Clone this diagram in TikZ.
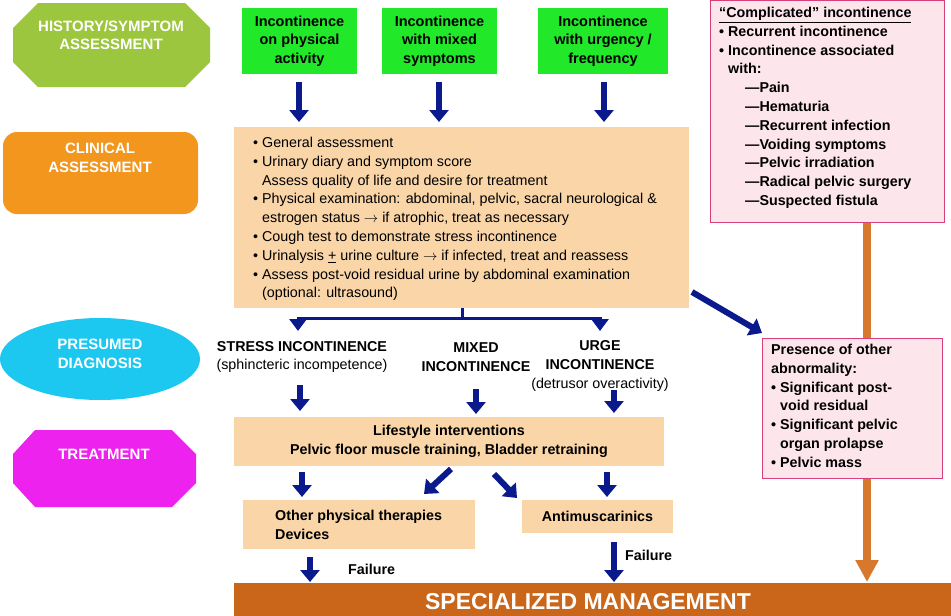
\documentclass[tikz,border=0pt]{standalone}
\usepackage{fontspec}
\setmainfont{Liberation Sans}
\usetikzlibrary{arrows.meta,shapes.geometric,shapes.misc}
\definecolor{navy}{HTML}{0A1A8C}
\definecolor{peach}{HTML}{F9D5A8}
\definecolor{gbox}{HTML}{22E82A}
\definecolor{lgreen}{HTML}{9CC63E}
\definecolor{orng}{HTML}{F2961E}
\definecolor{cyn}{HTML}{1CC8F0}
\definecolor{mag}{HTML}{EE22EE}
\definecolor{brwn}{HTML}{C9661A}
\definecolor{pinkf}{HTML}{FCE6EC}
\definecolor{pinkd}{HTML}{D8407A}
\definecolor{oarr}{HTML}{D8782C}
\tikzset{
  x=1pt,y=-1pt,
  bigarrow/.style={draw=navy,line width=6pt,-{Triangle[width=19pt,length=12pt]}},
  peachbox/.style={fill=peach,draw=none,inner sep=0},
  greenbox/.style={fill=gbox,draw=none,font=\fontsize{14.5}{18.5}\selectfont\bfseries,align=center,inner sep=0},
  sidelab/.style={text=white,font=\fontsize{15}{18.5}\selectfont\bfseries,align=center},
  body/.style={font=\fontsize{14.3}{18.8}\selectfont,align=left,inner sep=0},
  bbody/.style={font=\fontsize{14.3}{18.8}\selectfont\bfseries,align=left,inner sep=0},
  pinkbox/.style={fill=pinkf,draw=pinkd,line width=1pt,inner sep=0},
}
\begin{document}
\begin{tikzpicture}
\useasboundingbox (0,0) rectangle (951,616);
% left labels
\fill[lgreen] (38,3) -- (185,3) -- (210,28) -- (210,62) -- (185,87) -- (38,87) -- (13,62) -- (13,28) -- cycle;
\node[sidelab] (hist) at (111,35) {HISTORY/SYMPTOM\\ASSESSMENT};
\node[fill=orng,rounded corners=14pt,minimum width=195,minimum height=82,inner sep=0] (clinl) at (100.5,173) {};
\node[sidelab] at (100,158) {CLINICAL\\ASSESSMENT};
\node[ellipse,fill=cyn,minimum width=200,minimum height=82,inner sep=0] (pres) at (100,359) {};
\node[sidelab] at (100,354) {PRESUMED\\DIAGNOSIS};
\fill[mag] (35,430) -- (172,430) -- (196,454) -- (196,483) -- (172,507) -- (35,507) -- (13,483) -- (13,454) -- cycle;
\node[sidelab] (treat) at (104,454) {TREATMENT};
% green boxes
\node[greenbox,minimum width=115,minimum height=66] (g1) at (299.5,41) {Incontinence\\on physical\\activity};
\node[greenbox,minimum width=115,minimum height=66] (g2) at (439.5,41) {Incontinence\\with mixed\\symptoms};
\node[greenbox,minimum width=130,minimum height=66] (g3) at (603,41) {Incontinence\\with urgency /\\frequency};
% clinical box
\node[peachbox,minimum width=455,minimum height=181] (clin) at (461.5,217.5) {};
\node[body,anchor=north west] (clint) at (253,137) {%
\textbullet\ General assessment\\
\textbullet\ Urinary diary and symptom score\\
\phantom{\textbullet\ }Assess quality of life and desire for treatment\\
\textbullet\ Physical examination: abdominal, pelvic, sacral neurological \&\\
\phantom{\textbullet\ }estrogen status $\rightarrow$ if atrophic, treat as necessary\\
\textbullet\ Cough test to demonstrate stress incontinence\\
\textbullet\ Urinalysis \underline{+} urine culture $\rightarrow$ if infected, treat and reassess\\
\textbullet\ Assess post-void residual urine by abdominal examination\\
\phantom{\textbullet\ }(optional: ultrasound)};
\coordinate (a1) at (299,122); \coordinate (a2) at (439,122); \coordinate (a3) at (604,122);
\coordinate (b1) at (299,82); \coordinate (b2) at (439,82); \coordinate (b3) at (604,82);
\draw[bigarrow] (b1) -- (a1);
\draw[bigarrow] (b2) -- (a2);
\draw[bigarrow] (b3) -- (a3);
% split
\coordinate (sp) at (462,318);
\coordinate (st) at (462,308);
\coordinate (sl) at (298,331); \coordinate (sr) at (600,331);
\draw[navy,line width=3pt] (st) -- (sp);
\draw[navy,line width=3pt,-{Triangle[width=17pt,length=12pt]}] (sp) -| (sl);
\draw[navy,line width=3pt,-{Triangle[width=17pt,length=12pt]}] (sp) -| (sr);
% diagnoses
\node[font=\fontsize{14.3}{18.8}\selectfont,align=center,inner sep=0] (d1) at (302,357) {\textbf{STRESS INCONTINENCE}\\(sphincteric incompetence)};
\node[font=\fontsize{14.3}{18.8}\selectfont\bfseries,align=center,inner sep=0] (d2) at (476,357) {MIXED\\INCONTINENCE};
\node[font=\fontsize{14.3}{18.8}\selectfont,align=center,inner sep=0] (d3) at (600,366) {\textbf{URGE}\\\textbf{INCONTINENCE}\\(detrusor overactivity)};
% lifestyle
\node[peachbox,minimum width=430,minimum height=49,font=\fontsize{14.3}{18.8}\selectfont\bfseries,align=center] (life) at (449,441.5) {Lifestyle interventions\\Pelvic floor muscle training, Bladder retraining};
\draw[bigarrow] (300,385) -- (300,411);
\draw[bigarrow] (476,389) -- (476,414);
\draw[bigarrow] (614,390) -- (614,413);
% lower boxes
\node[peachbox,minimum width=232,minimum height=49] (oth) at (359,524.5) {};
\node[bbody,anchor=west] at (275,524.5) {Other physical therapies\\Devices};
\node[peachbox,minimum width=151,minimum height=33,font=\fontsize{14.3}{18.8}\selectfont\bfseries] (anti) at (597.5,516) {Antimuscarinics};
\draw[bigarrow] (302,472) -- (302,497);
\draw[bigarrow] (451,469) -- (424,494);
\draw[bigarrow] (494,474) -- (517,498);
\draw[bigarrow] (607,472) -- (607,497);
% specialized
\node[fill=brwn,minimum width=717,minimum height=34,inner sep=0] (spec) at (592.5,600) {};
\node[text=white,font=\fontsize{23}{26}\selectfont\bfseries,inner sep=0] at (588,602) {SPECIALIZED MANAGEMENT};
\draw[bigarrow] (310,557) -- (310,582);
\node[bbody,anchor=west] (f1) at (348,569) {Failure};
\draw[bigarrow] (614,542) -- (614,582);
\node[bbody,anchor=west] (f2) at (625,555) {Failure};
% orange arrow (behind the boxes)
\coordinate (ot) at (867,222); \coordinate (ob) at (867,582);
\draw[draw=oarr,line width=8pt,-{Triangle[width=22pt,length=22pt]}] (ot) -- (ob);
% complicated box
\node[pinkbox,minimum width=234,minimum height=222] (comp) at (827,111) {};
\node[bbody,anchor=north west] (compt) at (719,7) {%
\underline{``Complicated'' incontinence}\\
\textbullet\ Recurrent incontinence\\
\textbullet\ Incontinence associated\\
\phantom{\textbullet\ }with:\\
\hspace{26pt}---Pain\\
\hspace{26pt}---Hematuria\\
\hspace{26pt}---Recurrent infection\\
\hspace{26pt}---Voiding symptoms\\
\hspace{26pt}---Pelvic irradiation\\
\hspace{26pt}---Radical pelvic surgery\\
\hspace{26pt}---Suspected fistula};
\node[pinkbox,minimum width=180,minimum height=140] (presb) at (852,408) {};
\node[bbody,anchor=north west] (prest) at (771,344) {%
Presence of other\\abnormality:\\
\textbullet\ Significant post-\\\phantom{\textbullet\ }void residual\\
\textbullet\ Significant pelvic\\\phantom{\textbullet\ }organ prolapse\\
\textbullet\ Pelvic mass};
\draw[bigarrow] (692,292) -- (762,333);
\end{tikzpicture}
\end{document}
